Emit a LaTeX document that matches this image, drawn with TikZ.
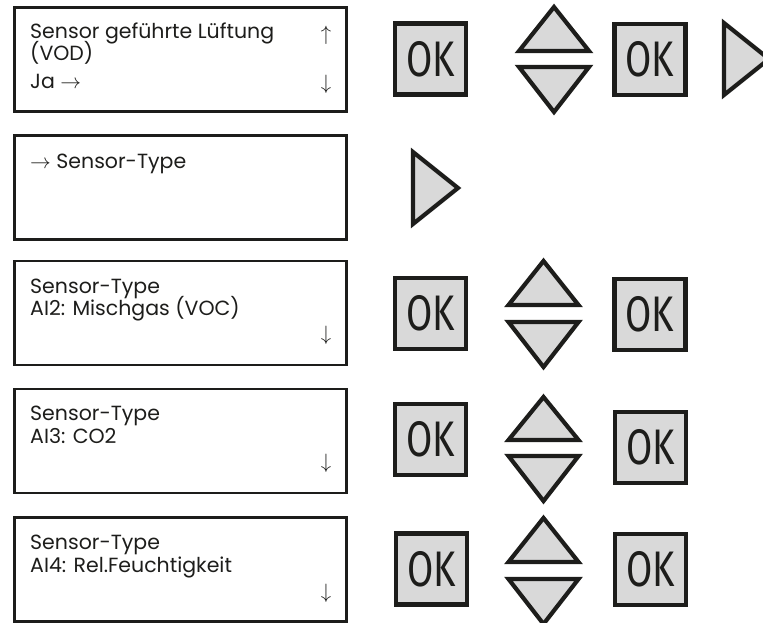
\documentclass[tikz,border=0pt]{standalone}
\usepackage{fontspec}
\setmainfont{Poppins}
\newfontfamily\okfont{Fira Sans}
\definecolor{ink}{HTML}{1D1D1B}
\definecolor{btn}{HTML}{D9D9D9}
\newcommand{\myarrowfont}{\fontsize{22}{22}\selectfont}
\begin{document}
\begin{tikzpicture}[x=1pt,y=-1pt,
  screen/.style={draw=ink, line width=2.8pt, minimum width=332pt, minimum height=104pt, inner sep=0pt},
  okbtn/.style={draw=ink, fill=btn, line width=4.2pt, minimum width=71pt, minimum height=71pt, inner sep=0pt, text=ink,
    font=\okfont\fontsize{50}{50}\selectfont},
  tri/.style={draw=ink, fill=btn, line width=4.2pt, line join=miter},
  txt/.style={anchor=base west, inner sep=0pt, text=ink, font=\fontsize{20.5}{24}\selectfont},
  arr/.style={anchor=center, inner sep=0pt, text=ink, font=\fontsize{21}{21}\selectfont},
]
\useasboundingbox (0,0) rectangle (763,623);

% screens
\node[screen] (box1) at (180.5,59.5) {};
\node[screen] (box2) at (180.5,187.5) {};
\node[screen] (box3) at (180.5,313) {};
\node[screen] (box4) at (180.5,441) {};
\node[screen] (box5) at (180.5,569.5) {};

% screen texts
\node[txt] (t1a) at (30,39) {Sensor geführte Lüftung};
\node[txt] (t1b) at (30,61) {(VOD)};
\node[txt] (t1c) at (30,89) {Ja {\myarrowfont$\rightarrow$}};
\node[arr] (a1u) at (326,35) {$\uparrow$};
\node[arr] (a1d) at (326,84) {$\downarrow$};

\node[txt] (t2a) at (30,168) {{\myarrowfont$\rightarrow$} Sensor-Type};

\node[txt] (t3a) at (30,293) {Sensor-Type};
\node[txt] (t3b) at (30,315) {AI2: Mischgas (VOC)};
\node[arr] (a3d) at (326,335) {$\downarrow$};

\node[txt] (t4a) at (30,420) {Sensor-Type};
\node[txt] (t4b) at (30,443) {AI3: CO2};
\node[arr] (a4d) at (326,463) {$\downarrow$};

\node[txt] (t5a) at (30,549) {Sensor-Type};
\node[txt] (t5b) at (30,572) {AI4: Rel.Feuchtigkeit};
\node[arr] (a5d) at (326,593) {$\downarrow$};

% OK buttons
\node[okbtn] (ok1a) at (430.5,59) {\scalebox{0.76}[1]{OK}};
\node[okbtn] (ok1b) at (650,59.5) {\scalebox{0.76}[1]{OK}};
\node[okbtn] (ok3a) at (430.5,313.5) {\scalebox{0.76}[1]{OK}};
\node[okbtn] (ok3b) at (650,314.5) {\scalebox{0.76}[1]{OK}};
\node[okbtn] (ok4a) at (430.5,439.5) {\scalebox{0.76}[1]{OK}};
\node[okbtn] (ok4b) at (650.5,447.5) {\scalebox{0.76}[1]{OK}};
\node[okbtn] (ok5a) at (431.5,569) {\scalebox{0.76}[1]{OK}};
\node[okbtn] (ok5b) at (650.5,569.5) {\scalebox{0.76}[1]{OK}};

% up/down triangles
\draw[tri] (519,51) -- (589,51) -- (554,7) -- cycle;
\draw[tri] (519,67) -- (589,67) -- (554,112) -- cycle;
\draw[tri] (508.5,305) -- (578.5,305) -- (543.5,261) -- cycle;
\draw[tri] (508.5,322) -- (578.5,322) -- (543.5,367) -- cycle;
\draw[tri] (508.5,440) -- (578.5,440) -- (543.5,397) -- cycle;
\draw[tri] (508.5,456) -- (578.5,456) -- (543.5,501) -- cycle;
\draw[tri] (508.5,562) -- (578.5,562) -- (543.5,518) -- cycle;
\draw[tri] (508.5,579) -- (578.5,579) -- (543.5,624) -- cycle;

% right triangles
\draw[tri] (724,23) -- (724,95) -- (769,59) -- cycle;
\draw[tri] (413,152) -- (413,224) -- (458,188) -- cycle;
\end{tikzpicture}
\end{document}
